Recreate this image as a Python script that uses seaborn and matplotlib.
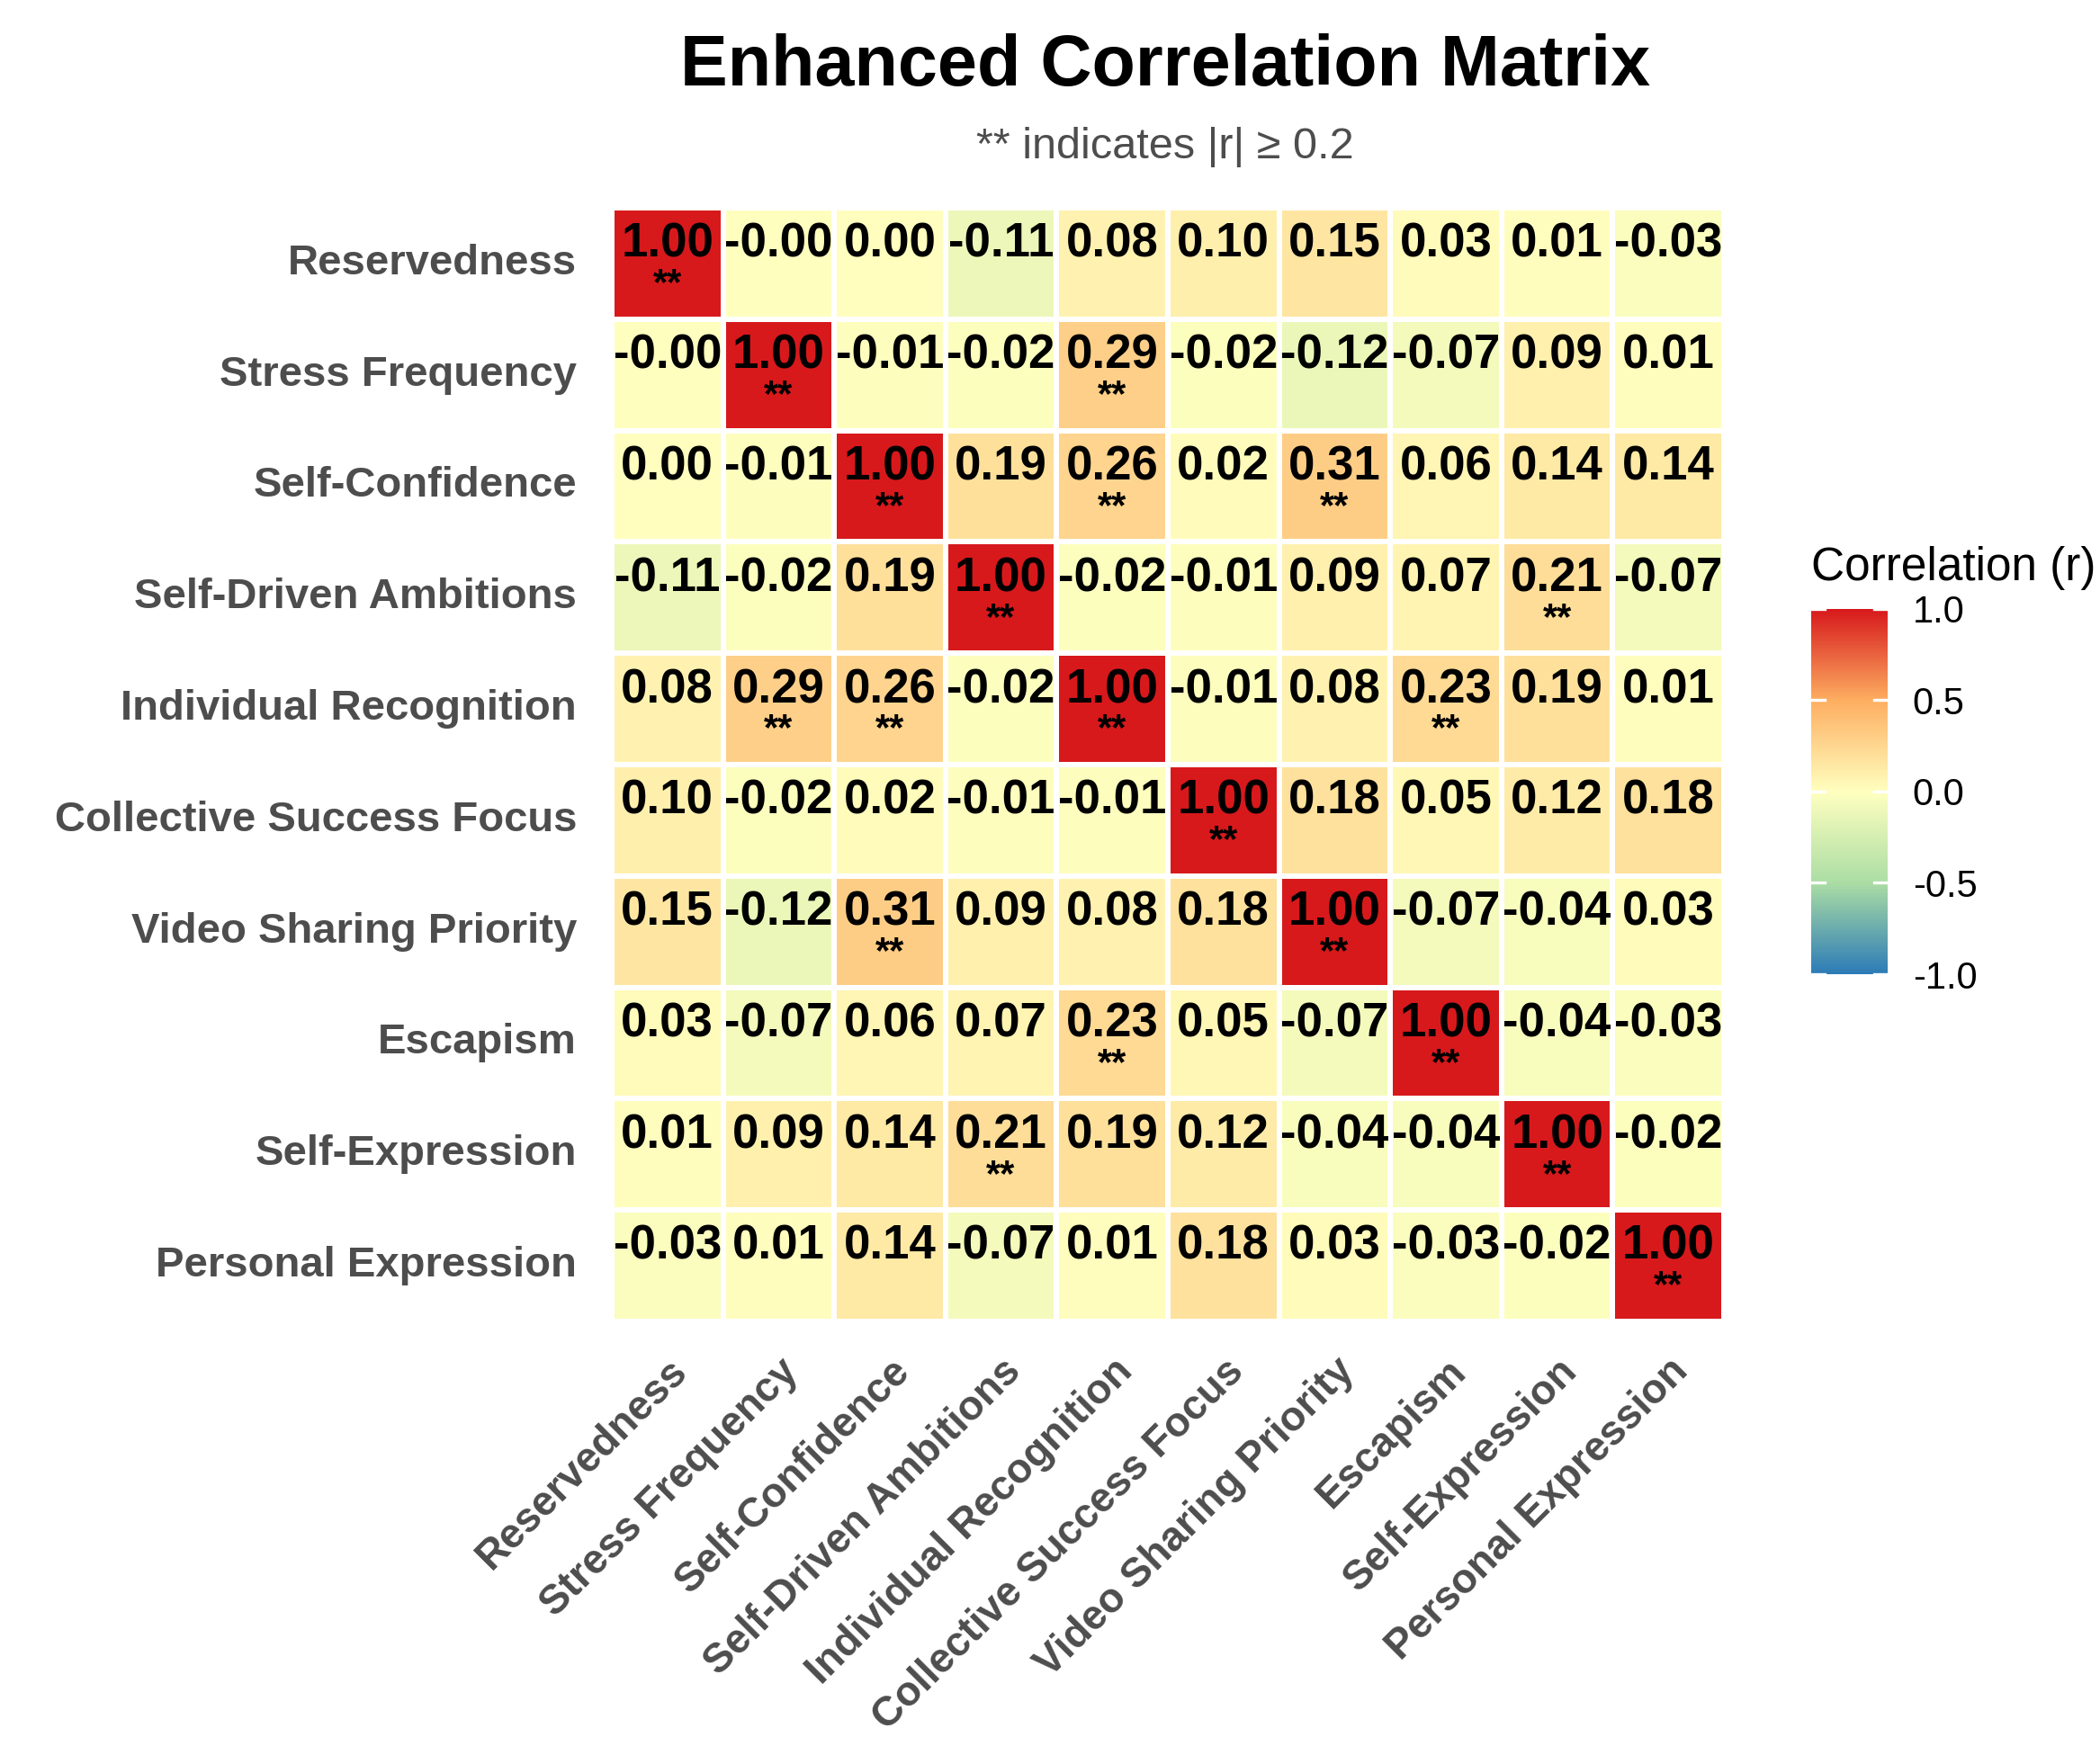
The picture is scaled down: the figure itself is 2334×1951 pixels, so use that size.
import numpy as np
import pandas as pd
import matplotlib
matplotlib.use("Agg")
import matplotlib.pyplot as plt
import seaborn as sns
from matplotlib.colors import LinearSegmentedColormap

variables = ["Reservedness", "Stress Frequency", "Self-Confidence", "Self-Driven Ambitions",
             "Individual Recognition", "Collective Success Focus", "Video Sharing Priority",
             "Escapism", "Self-Expression", "Personal Expression"]

# correlation rows (-0.001 prints as -0.00)
r_reservedness = [1.00, -0.001, 0.00, -0.11, 0.08, 0.10, 0.15, 0.03, 0.01, -0.03]
r_stress = [-0.001, 1.00, -0.01, -0.02, 0.29, -0.02, -0.12, -0.07, 0.09, 0.01]
r_confidence = [0.00, -0.01, 1.00, 0.19, 0.26, 0.02, 0.31, 0.06, 0.14, 0.14]
r_ambitions = [-0.11, -0.02, 0.19, 1.00, -0.02, -0.01, 0.09, 0.07, 0.21, -0.07]
r_recognition = [0.08, 0.29, 0.26, -0.02, 1.00, -0.01, 0.08, 0.23, 0.19, 0.01]
r_collective = [0.10, -0.02, 0.02, -0.01, -0.01, 1.00, 0.18, 0.05, 0.12, 0.18]
r_video = [0.15, -0.12, 0.31, 0.09, 0.08, 0.18, 1.00, -0.07, -0.04, 0.03]
r_escapism = [0.03, -0.07, 0.06, 0.07, 0.23, 0.05, -0.07, 1.00, -0.04, -0.03]
r_self_expr = [0.01, 0.09, 0.14, 0.21, 0.19, 0.12, -0.04, -0.04, 1.00, -0.02]
r_personal = [-0.03, 0.01, 0.14, -0.07, 0.01, 0.18, 0.03, -0.03, -0.02, 1.00]

threshold = 0.2
cbar_ticks = [-1.0, -0.5, 0.0, 0.5, 1.0]

corr = pd.DataFrame([r_reservedness, r_stress, r_confidence, r_ambitions, r_recognition,
                     r_collective, r_video, r_escapism, r_self_expr, r_personal],
                    index=variables, columns=variables)

cmap = LinearSegmentedColormap.from_list(
    "corr", ["#2C7BB6", "#ABDDA4", "#FFFFBF", "#FDAE61", "#D7191C"])

plt.rcParams["font.family"] = ["Liberation Sans", "DejaVu Sans"]
plt.rcParams["axes.unicode_minus"] = False

fig = plt.figure(figsize=(11.67, 9.755), dpi=200)
ax = fig.add_axes([0.2913, 0.2471, 0.5296, 0.6345])
cax = fig.add_axes([0.8625, 0.4449, 0.0364, 0.2081])

sns.heatmap(corr, ax=ax, cbar_ax=cax, cmap=cmap, vmin=-1, vmax=1,
            linewidths=1.5, linecolor="white", square=False,
            cbar_kws={"ticks": cbar_ticks, "format": "%.1f"})

n = len(variables)
for i in range(n):
    for j in range(n):
        v = corr.iloc[i, j]
        ax.text(j + 0.5, i + 0.33, f"{v:.2f}", ha="center", va="center",
                fontsize=19, fontweight="bold", color="black")
        if abs(v) >= threshold:
            ax.text(j + 0.5, i + 0.69, "**", ha="center", va="center",
                    fontsize=15, fontweight="bold", color="black")

ax.tick_params(axis="both", length=0)
ax.tick_params(axis="y", pad=14)
ax.tick_params(axis="x", pad=12)
ax.set_yticklabels(variables, rotation=0, fontsize=17, fontweight="bold", color="#4D4D4D")
ax.set_xticklabels(variables, rotation=45, ha="right", rotation_mode="anchor",
                   fontsize=16.5, fontweight="bold", color="#4D4D4D")
ax.set_xlabel("")
ax.set_ylabel("")

# colorbar styling like ggplot's legend
cax.tick_params(length=0, labelsize=15, pad=10)
for t in cbar_ticks:
    cax.plot([0, 0.18], [t, t], color="white", lw=1.2, transform=cax.get_yaxis_transform())
    cax.plot([0.82, 1], [t, t], color="white", lw=1.2, transform=cax.get_yaxis_transform())
for s in cax.spines.values():
    s.set_visible(False)
fig.text(0.8625, 0.6694, "Correlation (r)", fontsize=18.5, ha="left", va="baseline")

fig.text(0.555, 0.962, "Enhanced Correlation Matrix", fontsize=28.5, fontweight="bold",
         ha="center", va="center")
fig.text(0.555, 0.916, "** indicates |r| \u2265 0.2", fontsize=17.5,
         color="#4D4D4D", ha="center", va="center")

fig.savefig("out.png", dpi=200, facecolor="white")
